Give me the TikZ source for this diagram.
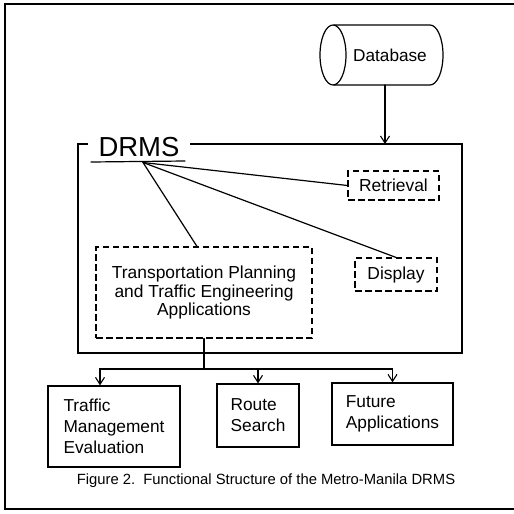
\documentclass[tikz,border=0pt]{standalone}
\usepackage{fontspec}
\setmainfont{Liberation Sans}
\usetikzlibrary{arrows.meta}
\tikzset{
  ln/.style={line width=1.2pt, line cap=round, line join=miter},
  arr/.style={ln, -{Straight Barb[length=7pt,width=9pt,line width=1.1pt]}},
  dbox/.style={draw, line width=1.1pt, dash pattern=on 6.5pt off 3.5pt, inner sep=0pt, align=center,
    font=\fontsize{17.4}{18.5}\selectfont},
  sbox/.style={draw, line width=1.3pt, inner sep=0pt, align=left,
    font=\fontsize{17.3}{21}\selectfont},
  txt/.style={inner sep=0pt, font=\fontsize{17.2}{20}\selectfont}
}
\begin{document}
\begin{tikzpicture}[x=1pt,y=-1pt]
\useasboundingbox (0,0) rectangle (514,514);
% outer frame
\draw[line width=1.3pt] (514,4) -- (5,4) -- (5,509) -- (514,509);
% database cylinder
\node[txt] (db) at (390,55) {Database};
\draw[ln] (334,25) -- (430,25) arc[start angle=90,end angle=-90,x radius=13,y radius=-30] -- (334,85);
\draw[ln] (333,55) ellipse [x radius=13, y radius=30];
\coordinate (dbb) at (385,85);
% DRMS box
\node[inner sep=0pt, anchor=base, font=\fontsize{27.5}{30}\selectfont] (drms) at (139,156) {DRMS};
\draw[line width=1.4pt] (88,144) -- (78,144) -- (78,353) -- (462,353) -- (462,144) -- (190,144);
\coordinate (drmstop) at (385,144);
\draw[ln] (91,162) -- (185,161);
\coordinate (hub) at (143,162.5);
\draw[arr] (dbb) -- (drmstop);
% inner dashed boxes
\node[dbox, minimum width=91pt, minimum height=29pt] (ret) at (393.5,185.5) {Retrieval};
\node[dbox, minimum width=82pt, minimum height=33pt] (dis) at (396,274.5) {Display};
\node[dbox, minimum width=216pt, minimum height=91pt] (tp) at (204,292.5)
  {Transportation Planning\\and Traffic Engineering\\Applications};
\draw[ln] (hub) -- (ret.west);
\draw[ln] (hub) -- (dis.north);
\draw[ln] (hub) -- ([xshift=-7pt]tp.north);
% bottom boxes
\node[sbox, minimum width=132pt, minimum height=81pt] (tm) at (114,426.5)
  {Traffic\\Management\\Evaluation};
\node[sbox, minimum width=82pt, minimum height=63pt] (rs) at (258,415.5)
  {Route\\Search};
\node[sbox, minimum width=121pt, minimum height=62pt] (fa) at (392.5,414)
  {Future\\Applications};
\coordinate (jn) at (204,369);
\draw[ln] (tp.south) -- (jn);
\draw[arr] (jn) -| ([xshift=-14pt]tm.north);
\draw[arr] (jn) -| (fa.north);
\draw[arr] (rs.north |- jn) -- (rs.north);
% caption
\node[inner sep=0pt, font=\fontsize{14.8}{16}\selectfont] (cap) at (266,481)
  {Figure 2.~~Functional Structure of the Metro-Manila DRMS};
\end{tikzpicture}
\end{document}
